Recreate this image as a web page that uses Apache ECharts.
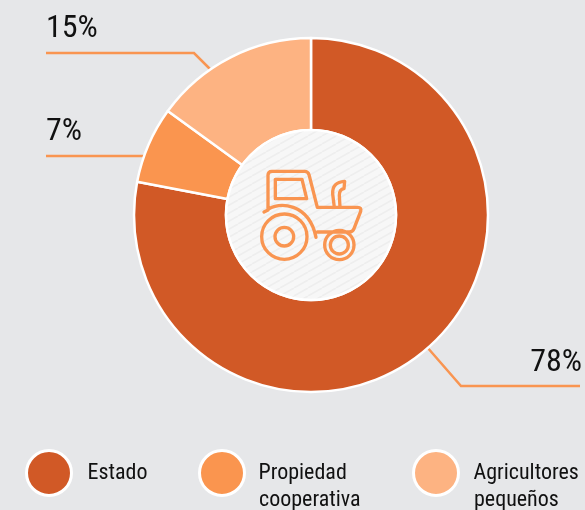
<!DOCTYPE html>
<html><head><meta charset="utf-8">
<style>html,body{margin:0;padding:0;background:#e6e7e9}#c{width:585px;height:510px}</style>
<script src="https://cdn.jsdelivr.net/npm/echarts@6/dist/echarts.min.js"></script>
</head><body><div id="c"></div>
<script>
const categories = ['Estado', 'Propiedad\ncooperativa', 'Agricultores\npequeños'];
const values = [78, 7, 15];
const colors = ['#d15926', '#fa954f', '#fdb382'];

const FONT = '"Roboto Condensed","Liberation Sans",sans-serif';
const LINE = '#f99551';

// label anchor and leader line for each slice
const labelSpots = [
  {x: 582, y: 363, align: 'right', line: [[427, 347], [461, 386], [580, 386]]},
  {x: 46, y: 132, align: 'left', line: [[145, 156], [145, 156], [46, 156]]},
  {x: 46, y: 29, align: 'left', line: [[212, 71], [194, 53], [46, 53]]}
];
const legendLefts = [25, 198, 412];
const legendPads = [11, 9, 10];
const legendTextX = [86, 259, 474];

// diagonal hatch for the centre disc
const tile = document.createElement('canvas');
tile.width = 14; tile.height = 8;
const t = tile.getContext('2d');
t.fillStyle = '#f7f7f7'; t.fillRect(0, 0, 14, 8);
t.strokeStyle = '#eeeeee'; t.lineWidth = 1.6;
[[-14, 8, 0, 0], [0, 8, 14, 0], [14, 8, 28, 0]].forEach(s => {
  t.beginPath(); t.moveTo(s[0], s[1]); t.lineTo(s[2], s[3]); t.stroke();
});

const iconPath = [
  // cab and body
  'M192 276 L204 270 L204 166 Q204 154 216 154 L314 154 Q324 154 327 164 L352 262 L473 262 Q485 262 482 274 L462 326 Q458 336 448 336 L352 336',
  // fender
  'M204 268 Q238 248 280 262 Q334 282 348 352',
  // window
  'M226 178 L306 178 L320 236 L226 236 Z',
  // exhaust
  'M403 262 L398 222 Q396 186 434 184 L432 206 Q418 208 418 226 L420 262',
  // rear wheel
  'M185 350 A68 68 0 1 1 321 350 A68 68 0 1 1 185 350 Z',
  'M225 350 A28 28 0 1 1 281 350 A28 28 0 1 1 225 350 Z',
  // front wheel
  'M374 375 A44 44 0 1 1 462 375 A44 44 0 1 1 374 375 Z',
  'M391 375 A27 27 0 1 1 445 375 A27 27 0 1 1 391 375 Z'
].join(' ');
echarts.graphic.registerShape('tractorIcon', echarts.graphic.extendPath(iconPath, {}));

const chart = echarts.init(document.getElementById('c'), null, {renderer: 'canvas'});
chart.setOption({
  backgroundColor: '#e6e7e9',
  animation: false,
  legend: categories.map((c, i) => ({
    left: legendLefts[i], top: 449,
    orient: 'vertical',
    data: [c],
    selectedMode: false,
    icon: 'circle',
    itemWidth: 45, itemHeight: 45,
    padding: 0,
    formatter: n => n.split('\n')[0],
    itemStyle: {borderColor: '#fff', borderWidth: 3},
    textStyle: {fontFamily: FONT, fontSize: 22, color: '#111', padding: [0, 0, 0, legendPads[i]]}
  })),
  series: [{
    type: 'pie',
    center: [311, 215],
    radius: [85, 177],
    startAngle: 90,
    clockwise: true,
    silent: true,
    color: colors,
    itemStyle: {borderColor: '#fff', borderWidth: 2.5},
    data: categories.map((c, i) => ({name: c, value: values[i]})),
    label: {show: true, formatter: '{c}%', fontFamily: FONT, fontSize: 32, color: '#111'},
    labelLine: {show: true, lineStyle: {color: LINE, width: 2.5}},
    labelLayout: p => {
      const s = labelSpots[p.dataIndex];
      return {x: s.x, y: s.y, align: s.align, verticalAlign: 'middle', labelLinePoints: s.line};
    }
  }],
  graphic: [
    {type: 'circle', z: 10, shape: {cx: 311, cy: 215, r: 85},
      style: {fill: {image: tile, repeat: 'repeat'}, stroke: '#fff', lineWidth: 2.5}},
    {type: 'tractorIcon', z: 11, x: 200, y: 120, scaleX: 1 / 3, scaleY: 1 / 3,
      style: {fill: 'none', stroke: LINE, lineWidth: 10, lineJoin: 'round', lineCap: 'round'}}
  ].concat(categories.map((c, i) => c.split('\n')[1] ? {
    type: 'text', z: 12, x: legendTextX[i], y: 500,
    style: {text: c.split('\n')[1], font: '22px ' + FONT, fill: '#111', verticalAlign: 'middle'}
  } : null).filter(Boolean))
});
</script></body></html>
